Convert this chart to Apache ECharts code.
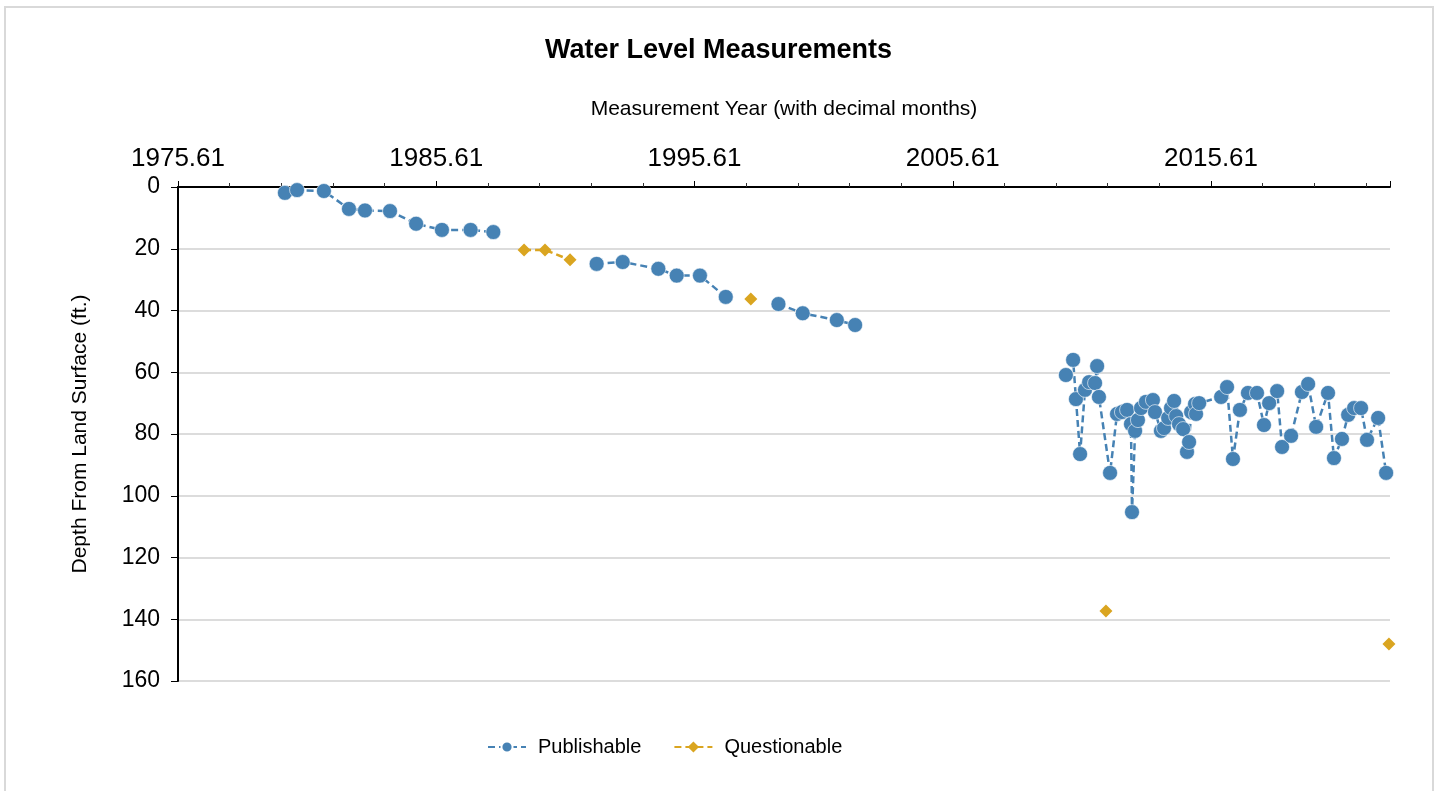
<!DOCTYPE html>
<html><head><meta charset="utf-8">
<script src="https://cdn.jsdelivr.net/npm/echarts@6/dist/echarts.min.js"></script>
<style>html,body{margin:0;padding:0;background:#fff}#c{width:1437px;height:791px}</style>
</head><body><div id="c"></div>
<script>
// Publishable measurements (null = gap in the line)
const pubYears = [1979.75,1980.22,1981.26,1982.23,1982.85,1983.82,1984.83,1985.83,1986.94,1987.82,
  null,
  1991.82,1992.83,1994.21,1994.92,1995.82,1996.82,
  null,
  1998.86,1999.80,2001.12,2001.83,
  null,
  2009.99,2010.27,2010.38,2010.54,2010.73,2010.89,2011.12,2011.20,2011.27,2011.70,
  2011.97,2012.16,2012.36,2012.51,2012.55,2012.67,2012.78,2012.90,2013.09,2013.36,
  2013.44,2013.67,2013.79,2013.95,2014.06,2014.18,2014.26,2014.37,2014.53,2014.68,
  2014.76,2014.84,2014.99,2015.03,2015.15,2016.00,2016.23,2016.46,2016.73,2017.04,
  2017.39,2017.66,2017.86,2018.17,2018.36,2018.71,2019.13,2019.37,2019.68,2020.14,
  2020.37,2020.68,2020.92,2021.15,2021.42,2021.65,2022.08,2022.39];
const pubDepths = [1.9,1.0,1.3,7.1,7.6,7.8,11.9,13.9,13.9,14.6,
  null,
  24.9,24.3,26.5,28.7,28.7,35.6,
  null,
  37.9,40.9,43.1,44.7,
  null,
  60.9,56.0,68.7,86.5,65.7,63.2,63.5,58.0,68.0,92.6,
  73.5,72.9,72.2,76.8,105.3,79.0,75.5,71.6,69.6,69.0,
  72.9,79.0,78.1,74.8,71.6,69.3,74.2,76.8,78.4,85.8,
  82.6,72.9,70.3,73.5,70.0,68.0,64.8,88.1,72.2,66.7,
  66.7,77.1,70.0,66.1,84.2,80.6,66.4,63.8,77.7,66.7,
  87.8,81.6,73.8,71.6,71.6,81.9,74.8,92.6];

// Questionable measurements
const qYears = [1989.01,1989.82,1990.79,null,1997.79,null,2011.54,null,2022.50];
const qDepths = [20.4,20.4,23.6,null,36.3,null,137.3,null,148.0];

// Axis ticks
const xMin = 1975.61, xStep = 10, xMax = 2022.54;
const yMin = 0, yMax = 160, yStep = 20;

function pairs(xs, ys) {
  return xs.map((x, i) => (x === null || ys[i] === null) ? ['-', '-'] : [x, ys[i]]);
}

const FONT = '"Liberation Sans", Arial, sans-serif';
const chart = echarts.init(document.getElementById('c'));
chart.setOption({
  animation: false,
  backgroundColor: '#fff',
  textStyle: { fontFamily: FONT },
  graphic: [{
    type: 'rect', silent: true,
    shape: { x: 5, y: 7, width: 1428, height: 820 },
    style: { fill: 'none', stroke: '#d9d9d9', lineWidth: 2 }
  }],
  title: {
    text: 'Water Level Measurements', left: 'center', top: 32,
    textStyle: { fontFamily: FONT, fontSize: 27, fontWeight: 'bold', color: '#000' }
  },
  legend: {
    data: ['Publishable', 'Questionable'],
    left: 487, top: 737, padding: 0,
    itemWidth: 38, itemHeight: 14, itemGap: 32,
    textStyle: { fontFamily: FONT, fontSize: 20, color: '#000', padding: [0, 0, 0, 7] }
  },
  grid: { left: 178, top: 187, right: 47, bottom: 110, containLabel: false },
  xAxis: {
    type: 'value', position: 'top',
    min: xMin, max: xMax, interval: xStep,
    name: 'Measurement Year (with decimal months)', nameLocation: 'middle', nameGap: 67,
    nameTextStyle: { fontFamily: FONT, fontSize: 21, color: '#000' },
    axisLine: { onZero: false, lineStyle: { color: '#000', width: 2 } },
    axisTick: { show: true, length: 6, lineStyle: { color: '#000', width: 1 } },
    minorTick: { show: true, splitNumber: 5, length: 4, lineStyle: { color: '#333', width: 1 } },
    axisLabel: {
      fontFamily: FONT, fontSize: 26, color: '#000', margin: 15,
      showMaxLabel: false, showMinLabel: true,
      formatter: v => v.toFixed(2)
    },
    splitLine: { show: false }
  },
  yAxis: {
    type: 'value', inverse: true,
    min: yMin, max: yMax, interval: yStep,
    name: 'Depth From Land Surface (ft.)', nameLocation: 'middle', nameGap: 87,
    nameTextStyle: { fontFamily: FONT, fontSize: 21, color: '#000' },
    axisLine: { show: true, onZero: false, lineStyle: { color: '#000', width: 2 } },
    axisTick: { show: true, length: 7, lineStyle: { color: '#000', width: 1 } },
    axisLabel: { fontFamily: FONT, fontSize: 23, color: '#000', margin: 18 },
    splitLine: { show: true, lineStyle: { color: '#dcdcdc', width: 2 } }
  },
  series: [{
    name: 'Publishable', type: 'line',
    data: pairs(pubYears, pubDepths),
    connectNulls: false,
    symbol: 'circle', symbolSize: 15,
    itemStyle: { color: '#4682b4', borderColor: '#ffffff', borderWidth: 0.6 },
    lineStyle: { color: '#4682b4', width: 2.5, type: [7, 4] },
    z: 3
  }, {
    name: 'Questionable', type: 'line',
    data: pairs(qYears, qDepths),
    connectNulls: false,
    symbol: 'diamond', symbolSize: 13,
    itemStyle: { color: '#daa520' },
    lineStyle: { color: '#daa520', width: 2.5, type: [7, 4] },
    z: 2
  }]
});
</script>
</body></html>
